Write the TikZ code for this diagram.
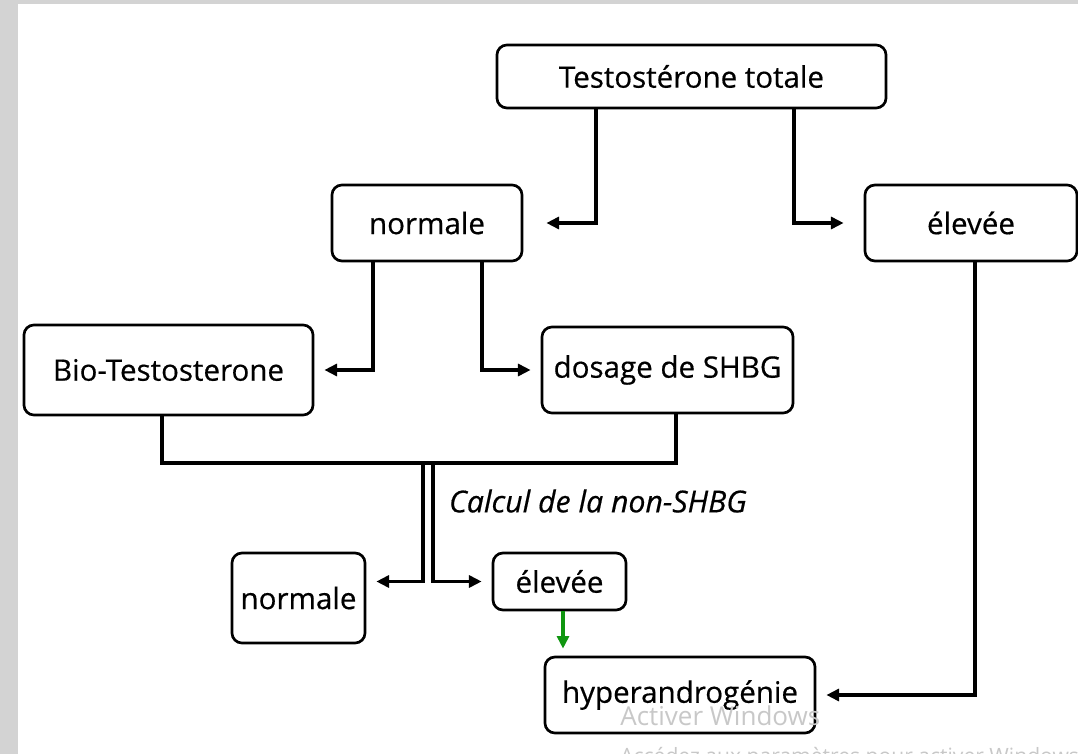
\documentclass[tikz,border=0pt]{standalone}
\usepackage{fontspec}
\setmainfont{Open Sans}
\newfontfamily\comic{Open Sans}[FakeBold=0.5]
\usetikzlibrary{arrows.meta}
\definecolor{F}{RGB}{211, 211, 211}
\definecolor{V}{RGB}{16, 150, 16}
\definecolor{W}{RGB}{200, 200, 200}

\tikzset{
	caja/.style={draw, line width=1.9pt, rounded corners=0.25cm, fill=white, inner sep=0pt,
		font=\comic\fontsize{21}{25}\selectfont},
	flecha/.style={line width=2.8pt, -{Triangle[length=9pt,width=8.5pt]}, shorten >=0.25cm},
	linea/.style={line width=2.8pt},
	marca/.style={anchor=base west, inner sep=0pt, text=W},
}

\begin{document}
\begin{tikzpicture}[x=0.025cm, y=-0.025cm]
	\useasboundingbox (0,0) rectangle (1078,754);
	%Fondo
	\fill[color=F] (0,0) rectangle (1078,754);
	\fill[color=white] (18,4) rectangle (1078,754);

	%Cajas
	\node[caja, minimum width=9.725cm, minimum height=1.575cm] (tt) at (691.5,76.5) {Testostérone totale};
	\node[caja, minimum width=4.75cm, minimum height=1.9cm] (norm1) at (427,223) {normale};
	\node[caja, minimum width=5.3cm, minimum height=1.9cm] (elev1) at (971,223) {élevée};
	\node[caja, minimum width=7.225cm, minimum height=2.25cm] (bio) at (168.5,370) {Bio-Testosterone};
	\node[caja, minimum width=6.275cm, minimum height=2.15cm] (shbg) at (667.5,370) {dosage de SHBG};
	\node[caja, minimum width=3.325cm, minimum height=2.25cm] (norm2) at (298.5,598) {normale};
	\node[caja, minimum width=3.325cm, minimum height=1.425cm] (elev2) at (559.5,581.5) {élevée};
	\node[caja, minimum width=6.75cm, minimum height=1.9cm] (hyper) at (680,695) {hyperandrogénie};

	%Texto
	\node[font=\comic\fontsize{21.5}{25}\selectfont\itshape] (calc) at (598,501) {Calcul de la non-SHBG};

	%Primer nivel
	\draw[flecha, shorten >=0.575cm] (tt.south -| 596,0) |- (norm1.east);
	\draw[flecha, shorten >=0.5cm] (tt.south -| 794,0) |- (elev1.west);

	%Segundo nivel
	\draw[flecha] (norm1.south -| 373,0) |- (bio.east);
	\draw[flecha] (norm1.south -| 482,0) |- (shbg.west);

	%Union Bio y SHBG
	\draw[linea] (bio.south -| 162,0) |- (676,463) -- (shbg.south -| 676,0);

	%Linea doble
	\draw[flecha, line width=2.4pt] (423,463) |- (norm2.east |- elev2.west);
	\draw[flecha, line width=2.4pt] (433,463) |- (elev2.west);

	%Hacia hyperandrogenie
	\draw[flecha, color=V, line width=3pt, shorten >=0.175cm] (elev2.south -| 563,0) -- (hyper.north -| 563,0);
	\draw[flecha] (elev1.south -| 975,0) |- (hyper.east);

	%Marca de agua
	\node[marca, font=\fontsize{18.5}{20}\selectfont] (win) at (620,725) {Activer Windows};
	\node[marca, font=\fontsize{15}{18}\selectfont] (win2) at (620,763) {Accédez aux paramètres pour activer Windows};
\end{tikzpicture}
\end{document}
